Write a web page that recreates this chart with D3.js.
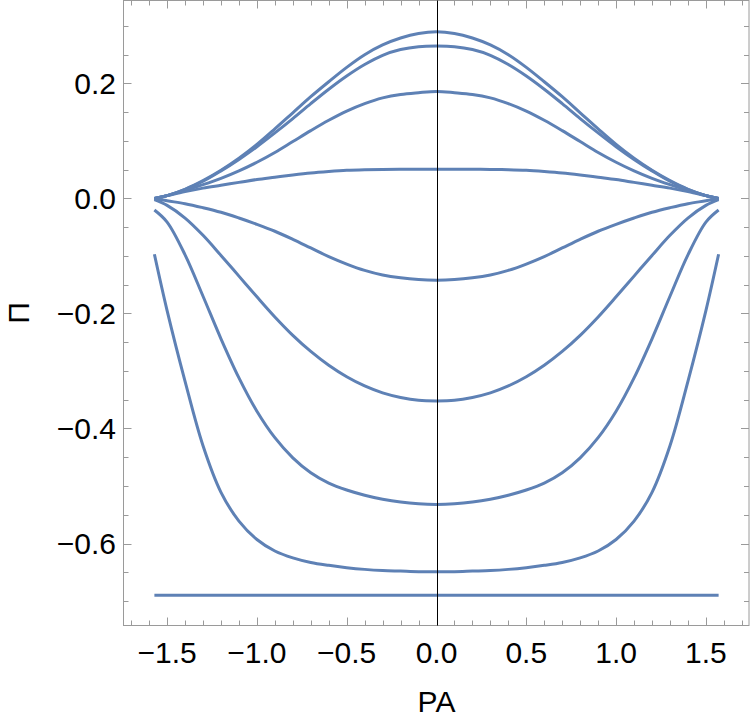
<!DOCTYPE html>
<meta charset="utf-8">
<style>
	body {
		margin: 0;
		background: #fff;
		font-family: "Liberation Sans", Arial, Helvetica, sans-serif;
	}
	.frame {
		fill: none;
		stroke: #9a9a9a;
		stroke-width: 1px;
	}
	.tick {
		stroke: #9a9a9a;
		stroke-width: 1px;
	}
	.curve {
		fill: none;
		stroke: #5e81b5;
		stroke-width: 3px;
	}
	.lbl {
		font-size: 30px;
		fill: #000;
	}
</style>
<body>
<svg id="chart" width="750" height="721"></svg>
<script src="https://cdn.jsdelivr.net/npm/d3@7"></script>
<script>
	// sample positions along PA (every 0.1 plus the end points)
	var xs = [-1.5708, -1.5, -1.4, -1.3, -1.2, -1.1, -1.0, -0.9, -0.8, -0.7, -0.6, -0.5, -0.4, -0.3, -0.2, -0.1, 0,
		0.1, 0.2, 0.3, 0.4, 0.5, 0.6, 0.7, 0.8, 0.9, 1.0, 1.1, 1.2, 1.3, 1.4, 1.5, 1.5708];

	// curves, top to bottom
	var c1 = [0, 0.005, 0.016, 0.031, 0.049, 0.070, 0.094, 0.121, 0.149, 0.177, 0.203, 0.228, 0.250, 0.267, 0.279, 0.287, 0.290,
		0.287, 0.279, 0.267, 0.250, 0.228, 0.203, 0.177, 0.149, 0.121, 0.094, 0.070, 0.049, 0.031, 0.016, 0.005, 0];
	var c2 = [0, 0.005, 0.016, 0.030, 0.048, 0.068, 0.090, 0.114, 0.139, 0.165, 0.190, 0.213, 0.233, 0.249, 0.259, 0.264, 0.265,
		0.264, 0.259, 0.249, 0.233, 0.213, 0.190, 0.165, 0.139, 0.114, 0.090, 0.068, 0.048, 0.030, 0.016, 0.005, 0];
	var c3 = [0, 0.005, 0.014, 0.024, 0.035, 0.048, 0.063, 0.080, 0.099, 0.118, 0.136, 0.152, 0.165, 0.175, 0.181, 0.184, 0.186,
		0.184, 0.181, 0.175, 0.165, 0.152, 0.136, 0.118, 0.099, 0.080, 0.063, 0.048, 0.035, 0.024, 0.014, 0.005, 0];
	var c4 = [0, 0.005, 0.012, 0.018, 0.023, 0.028, 0.033, 0.037, 0.041, 0.0445, 0.047, 0.049, 0.050, 0.0505, 0.051, 0.051, 0.051,
		0.051, 0.051, 0.0505, 0.050, 0.049, 0.047, 0.0445, 0.041, 0.037, 0.033, 0.028, 0.023, 0.018, 0.012, 0.005, 0];
	var c5 = [0, -0.004, -0.009, -0.016, -0.024, -0.034, -0.045, -0.057, -0.071, -0.086, -0.101, -0.114, -0.125, -0.133, -0.138, -0.141, -0.142,
		-0.141, -0.138, -0.133, -0.125, -0.114, -0.101, -0.086, -0.071, -0.057, -0.045, -0.034, -0.024, -0.016, -0.009, -0.004, 0];
	var c6 = [-0.002, -0.012, -0.034, -0.064, -0.099, -0.135, -0.171, -0.206, -0.238, -0.266, -0.290, -0.310, -0.326, -0.338, -0.346, -0.351, -0.352,
		-0.351, -0.346, -0.338, -0.326, -0.310, -0.290, -0.266, -0.238, -0.206, -0.171, -0.135, -0.099, -0.064, -0.034, -0.012, -0.002];
	var c7 = [-0.020, -0.041, -0.098, -0.170, -0.244, -0.312, -0.370, -0.416, -0.451, -0.477, -0.495, -0.507, -0.516, -0.523, -0.528, -0.531, -0.532,
		-0.531, -0.528, -0.523, -0.516, -0.507, -0.495, -0.477, -0.451, -0.416, -0.370, -0.312, -0.244, -0.170, -0.098, -0.041, -0.020];
	var c8 = [-0.097, -0.195, -0.318, -0.430, -0.511, -0.561, -0.593, -0.613, -0.625, -0.633, -0.638, -0.642, -0.645, -0.647, -0.648, -0.649, -0.649,
		-0.649, -0.648, -0.647, -0.645, -0.642, -0.638, -0.633, -0.625, -0.613, -0.593, -0.561, -0.511, -0.430, -0.318, -0.195, -0.097];
	var c9 = [-0.69, -0.69, -0.69, -0.69, -0.69, -0.69, -0.69, -0.69, -0.69, -0.69, -0.69, -0.69, -0.69, -0.69, -0.69, -0.69, -0.69,
		-0.69, -0.69, -0.69, -0.69, -0.69, -0.69, -0.69, -0.69, -0.69, -0.69, -0.69, -0.69, -0.69, -0.69, -0.69, -0.69];
	var series = [c1, c2, c3, c4, c5, c6, c7, c8, c9];

	var xTicks = [-1.5, -1.0, -0.5, 0.0, 0.5, 1.0, 1.5];
	var yTicks = [0.2, 0.0, -0.2, -0.4, -0.6];
	var xLabel = "PA";
	var yLabel = "Π";

	var box = {left: 123.5, right: 749, top: 0.5, bottom: 625.5};

	var x = d3.scaleLinear().domain([-1.7428, 1.740]).range([box.left, box.right]);
	var y = d3.scaleLinear().domain([-0.7426, 0.3443]).range([box.bottom, box.top]);

	var svg = d3.select("#chart");

	function fmt(v) {
		return (v < 0 ? "\u2212" : "") + Math.abs(v).toFixed(1);
	}

	// minor ticks every 0.1 (x) and 0.05 (y), majors longer; all pointing inwards
	var xMinor = d3.range(-17, 18).map(function(i) { return i / 10; });
	var yMinor = d3.range(-14, 7).map(function(i) { return i / 20; });
	function isMajor(v, step) {
		return Math.abs(v / step - Math.round(v / step)) < 1e-6;
	}

	var ticks = svg.append("g");
	xMinor.forEach(function(v) {
		var len = isMajor(v, 0.5) ? 8 : 5;
		var px = Math.round(x(v)) + 0.5;
		ticks.append("line").attr("class", "tick")
			.attr("x1", px).attr("x2", px).attr("y1", box.bottom).attr("y2", box.bottom - len);
		ticks.append("line").attr("class", "tick")
			.attr("x1", px).attr("x2", px).attr("y1", box.top).attr("y2", box.top + len);
	});
	yMinor.forEach(function(v) {
		var len = isMajor(v, 0.2) ? 8 : 5;
		var py = Math.round(y(v)) + 0.5;
		ticks.append("line").attr("class", "tick")
			.attr("y1", py).attr("y2", py).attr("x1", box.left).attr("x2", box.left + len);
		ticks.append("line").attr("class", "tick")
			.attr("y1", py).attr("y2", py).attr("x1", box.right).attr("x2", box.right - len);
	});

	svg.append("rect").attr("class", "frame")
		.attr("x", box.left).attr("y", box.top)
		.attr("width", box.right - box.left).attr("height", box.bottom - box.top);

	// curves
	var line = d3.line()
		.x(function(d, i) { return x(xs[i]); })
		.y(function(d) { return y(d); })
		.curve(d3.curveCatmullRom.alpha(0.5));

	svg.append("g").selectAll("path")
		.data(series)
		.enter().append("path")
		.attr("class", "curve")
		.attr("d", line);

	// vertical line at PA = 0
	svg.append("line")
		.attr("x1", Math.round(x(0)) + 0.5).attr("x2", Math.round(x(0)) + 0.5)
		.attr("y1", box.top).attr("y2", box.bottom)
		.attr("stroke", "#000").attr("stroke-width", 1);

	// tick labels
	svg.append("g").selectAll("text")
		.data(xTicks)
		.enter().append("text")
		.attr("class", "lbl")
		.attr("x", function(d) { return x(d); })
		.attr("y", 663)
		.attr("text-anchor", "middle")
		.text(fmt);

	svg.append("g").selectAll("text")
		.data(yTicks)
		.enter().append("text")
		.attr("class", "lbl")
		.attr("x", 116)
		.attr("y", function(d) { return y(d) + 10.8; })
		.attr("text-anchor", "end")
		.text(fmt);

	// axis titles
	svg.append("text").attr("class", "lbl")
		.attr("x", x(0)).attr("y", 712)
		.attr("text-anchor", "middle")
		.text(xLabel);

	svg.append("text").attr("class", "lbl")
		.attr("transform", "translate(29," + ((box.top + box.bottom) / 2) + ") rotate(-90)")
		.attr("text-anchor", "middle")
		.text(yLabel);
</script>
</body>
